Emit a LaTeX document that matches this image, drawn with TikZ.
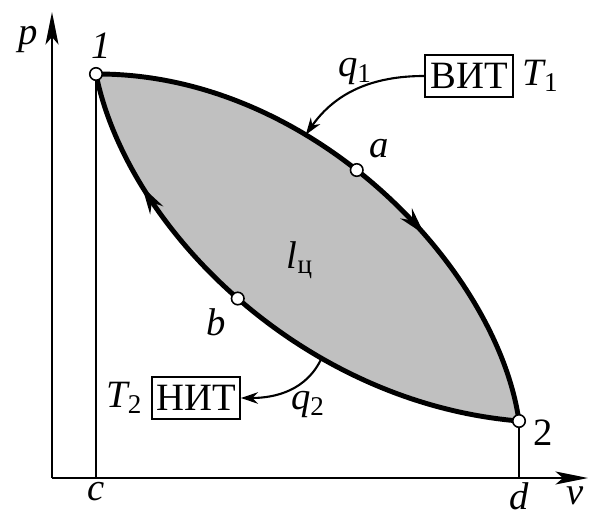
\documentclass[tikz,border=0pt]{standalone}
\usepackage{fontspec}
\setmainfont{Liberation Serif}
\usepackage{tikz}
\usetikzlibrary{arrows.meta, positioning, decorations.markings}
\definecolor{cyclegray}{RGB}{192,192,192}
\pgfdeclarelayer{background}
\pgfsetlayers{background,main}

\begin{document}
\begin{tikzpicture}[
    vertex/.style={circle, draw, fill=white, line width=0.9pt, inner sep=0pt, minimum size=2.5mm},
    res/.style={rectangle, draw, line width=1.1pt, minimum width=1.76cm, minimum height=0.84cm, inner sep=2pt, font=\fontsize{22}{24}\selectfont},
    lbl/.style={font=\fontsize{22}{24}\selectfont\itshape},
    num/.style={font=\fontsize{22}{24}\selectfont},
    process/.style={line width=2.8pt},
    heat/.style={-{Stealth[length=3.4mm, width=2.3mm]}, line width=1.2pt},
    axis/.style={-{Stealth[length=6.5mm, width=2.6mm, inset=1.5mm]}, line width=1.2pt},
    marked/.style={postaction={decorate}, decoration={markings, mark=at position #1 with {\arrow{Stealth[length=5.5mm, width=3mm]}}}}
]
    \useasboundingbox (-1.04,-0.76) rectangle (10.96,9.56);

    % Axes
    \coordinate (o) at (0,0);
    \coordinate (ptop) at (0,9.32);
    \coordinate (vend) at (10.72,0);
    \draw[axis] (o) -- (ptop);
    \draw[axis] (o) -- (vend);
    \node[lbl, anchor=east] (lp) at ([xshift=-1.5mm, yshift=-5.6mm]ptop) {p};
    \node[lbl, anchor=north] (lv) at ([xshift=-2.6mm, yshift=-0.6mm]vend) {v};

    % State points
    \node[vertex] (s1) at (0.88,8.08) {};
    \node[vertex] (s2) at (9.34,1.14) {};
    \node[lbl, anchor=south] (n1) at ([xshift=1mm, yshift=0.5mm]s1.north) {1};
    \node[num, anchor=west] (n2) at ([xshift=0.2mm, yshift=-2.4mm]s2.east) {2};

    % Control points of the two processes
    \coordinate (u1) at (5.2,8.1);
    \coordinate (u2) at (8.9,4.2);
    \coordinate (w1) at (5,1.5);
    \coordinate (w2) at (1.5,5);

    \begin{pgfonlayer}{background}
    % Cycle work area
    \fill[cyclegray] (s1.center) .. controls (u1) and (u2) .. (s2.center)
        .. controls (w1) and (w2) .. (s1.center);
    % Projections
    \draw[line width=0.9pt] (s1.center) -- (s1 |- o);
    \draw[line width=0.9pt] (s2.center) -- (s2 |- o);
    % Expansion 1-a-2 and compression 2-b-1
    \draw[process, marked=0.64] (s1.center) .. controls (u1) and (u2)
        .. node[pos=0.35, coordinate] (qa) {} node[vertex, pos=0.45] (a) {} (s2.center);
    \draw[process, marked=0.79] (s2.center) .. controls (w1) and (w2)
        .. node[pos=0.33, coordinate] (qb) {} node[vertex, pos=0.5] (b) {} (s1.center);
    \end{pgfonlayer}

    \node[lbl, anchor=north] (lc) at ([yshift=0.3mm]s1 |- o) {c};
    \node[lbl, anchor=north] (ld) at ([yshift=0.3mm]s2 |- o) {d};
    \node[lbl, anchor=south west] (la) at ([xshift=0.3mm, yshift=0.2mm]a.north east) {a};
    \node[lbl, anchor=north east] (lb) at ([xshift=-0.2mm, yshift=0.3mm]b.south west) {b};
    \node[lbl] (lw) at (4.96,4.36) {l\textsubscript{\upshape ц}};

    % Heat source and sink
    \node[res] (vit) at (8.34,8.04) {ВИТ};
    \node[lbl, right=0.5mm of vit] (t1) {T\textsubscript{\upshape 1}};
    \node[res] (nit) at (2.88,1.6) {НИТ};
    \node[lbl, left=0.5mm of nit] (t2) {T\textsubscript{\upshape 2}};

    \draw[heat] (vit.west) to[out=180, in=55] (qa);
    \node[lbl] (lq1) at (6.06,8.12) {q\textsubscript{\upshape 1}};
    \draw[heat] (qb) to[out=-115, in=0] (nit.east);
    \node[lbl] (lq2) at (5.12,1.46) {q\textsubscript{\upshape 2}};

\end{tikzpicture}
\end{document}
